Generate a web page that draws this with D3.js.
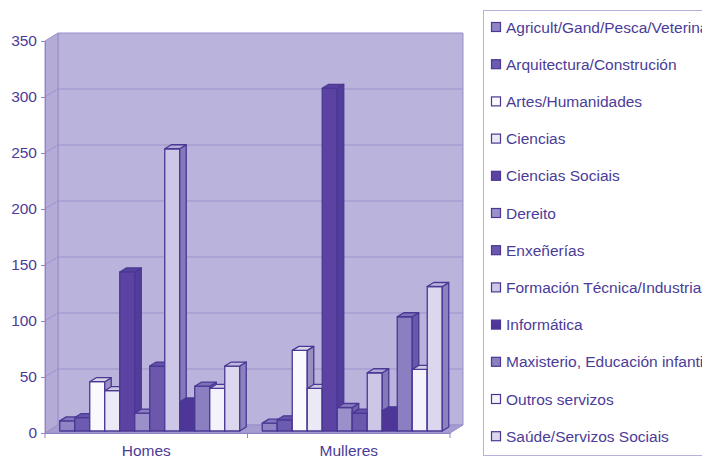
<!DOCTYPE html>
<html>
<head>
<meta charset="utf-8">
<script src="https://cdn.jsdelivr.net/npm/d3@7"></script>
<style>
  body { margin: 0; background: #fff; }
  svg { display: block; font-family: "Liberation Sans", Arial, sans-serif; }
</style>
</head>
<body>
<div id="chart"></div>
<script>
// Data
const groups = ["Homes", "Mulleres"];
const fields = [
  "Agricult/Gand/Pesca/Veterinaria",
  "Arquitectura/Construción",
  "Artes/Humanidades",
  "Ciencias",
  "Ciencias Sociais",
  "Dereito",
  "Enxeñerías",
  "Formación Técnica/Industrias",
  "Informática",
  "Maxisterio, Educación infantil",
  "Outros servizos",
  "Saúde/Servizos Sociais"
];
const homes    = [9, 12, 44, 36, 142, 16, 58, 252, 26, 40, 38, 58];
const mulleres = [7, 10, 72, 38, 306, 21, 16, 52, 18, 102, 55, 129];
const yTicks = [0, 50, 100, 150, 200, 250, 300, 350];

// Fill colours, one per field
const palette = ["#9184c4", "#6c5bb0", "#faf9fd", "#ece9f6", "#5b42a3", "#9c90ca",
                 "#6b58ad", "#cdc6e6", "#4e3699", "#8b7ec1", "#f4f2fa", "#dcd7ef"];

const width = 702, height = 459;
const textColor = "#4b3c98";
const edge = "#4a3894";
const fontSize = "15.5px";

// depth of the walls and of the bars (3D offsets)
const wall = { dx: 13, dy: -8 };
const barFront = { dx: 3.5, dy: -2 };
const barDepth = { dx: 6.5, dy: -4 };

const svg = d3.select("#chart").append("svg")
  .attr("width", width)
  .attr("height", height);

const x = d3.scaleBand().domain(groups).range([45, 450]);
const xi = d3.scaleBand().domain(fields).range([0, x.bandwidth()]).paddingOuter(0.75);
const y = d3.scaleLinear().domain([0, 350]).range([433, 41]);
const color = d3.scaleOrdinal().domain(fields).range(palette);

const x0 = x.range()[0], x1 = x.range()[1];
const yTop = y(350), yBot = y(0);

// WALLS
const poly = pts => "M" + pts.map(p => p.join(",")).join("L") + "Z";

svg.append("path") // back wall
  .attr("d", poly([[x0 + wall.dx, yTop + wall.dy], [x1 + wall.dx, yTop + wall.dy],
                   [x1 + wall.dx, yBot + wall.dy], [x0 + wall.dx, yBot + wall.dy]]))
  .attr("fill", "#bab3db")
  .attr("stroke", "#9a8fcb");

svg.append("path") // left wall
  .attr("d", poly([[x0, yTop], [x0 + wall.dx, yTop + wall.dy],
                   [x0 + wall.dx, yBot + wall.dy], [x0, yBot]]))
  .attr("fill", "#b4acd7")
  .attr("stroke", "#9a8fcb");

svg.append("path") // floor
  .attr("d", poly([[x0, yBot], [x1, yBot], [x1 + wall.dx, yBot + wall.dy], [x0 + wall.dx, yBot + wall.dy]]))
  .attr("fill", "#a59cd1")
  .attr("stroke", "#9a8fcb");

// gridlines on back and left wall
const grid = svg.append("g")
  .attr("stroke", "#9d92cc")
  .attr("fill", "none");

grid.selectAll(".gb")
  .data(yTicks.filter(d => d > 0 && d < 350))
  .join("line")
  .attr("x1", x0 + wall.dx).attr("x2", x1 + wall.dx)
  .attr("y1", d => y(d) + wall.dy).attr("y2", d => y(d) + wall.dy);

grid.selectAll(".gl")
  .data(yTicks.filter(d => d > 0 && d < 350))
  .join("line")
  .attr("x1", x0).attr("x2", x0 + wall.dx)
  .attr("y1", d => y(d)).attr("y2", d => y(d) + wall.dy);

// AXES
const yAxis = d3.axisLeft(y).tickValues(yTicks).tickSize(4).tickPadding(4);
svg.append("g")
  .attr("transform", `translate(${x0},0)`)
  .call(yAxis)
  .call(g => g.selectAll("line, path").attr("stroke", "#8f84c6"))
  .call(g => g.selectAll("text").attr("fill", textColor).style("font-size", fontSize));

const xAxis = d3.axisBottom(x).tickSize(0).tickPadding(12);
svg.append("g")
  .attr("transform", `translate(0,${yBot})`)
  .call(xAxis)
  .call(g => g.select(".domain").attr("stroke", "#8f84c6"))
  .call(g => g.selectAll("text").attr("fill", textColor).style("font-size", fontSize));

// category separators
svg.append("g")
  .selectAll("line")
  .data([x0, x0 + x.bandwidth(), x1])
  .join("line")
  .attr("x1", d => d).attr("x2", d => d)
  .attr("y1", yBot).attr("y2", yBot + 5)
  .attr("stroke", "#8f84c6");

// BARS, painted left to right so nearer sides cover farther ones
const rows = [];
groups.forEach((g, gi) => {
  const vals = gi === 0 ? homes : mulleres;
  fields.forEach((f, fi) => rows.push({ group: g, field: f, value: vals[fi] }));
});

const bw = xi.bandwidth();
const bars = svg.append("g")
  .attr("stroke", edge)
  .attr("stroke-width", 1.3)
  .attr("stroke-linejoin", "round")
  .selectAll("g")
  .data(rows)
  .join("g");

const bx = d => x(d.group) + xi(d.field) + barFront.dx;
const byTop = d => y(d.value) + barFront.dy;
const byBot = yBot + barFront.dy;

bars.append("path") // front face
  .attr("d", d => poly([[bx(d), byTop(d)], [bx(d) + bw, byTop(d)], [bx(d) + bw, byBot], [bx(d), byBot]]))
  .attr("fill", d => color(d.field));

bars.append("path") // side face
  .attr("d", d => poly([[bx(d) + bw, byTop(d)], [bx(d) + bw + barDepth.dx, byTop(d) + barDepth.dy],
                        [bx(d) + bw + barDepth.dx, byBot + barDepth.dy], [bx(d) + bw, byBot]]))
  .attr("fill", d => d3.interpolateRgb(color(d.field), edge)(0.55));

bars.append("path") // top face
  .attr("d", d => poly([[bx(d), byTop(d)], [bx(d) + barDepth.dx, byTop(d) + barDepth.dy],
                        [bx(d) + bw + barDepth.dx, byTop(d) + barDepth.dy], [bx(d) + bw, byTop(d)]]))
  .attr("fill", d => d3.interpolateRgb(color(d.field), edge)(0.2));

// LEGEND (the box runs past the right edge, as in the original)
const legend = svg.append("g");

legend.append("rect")
  .attr("x", 483.5).attr("y", 10.5)
  .attr("width", 240).attr("height", 445)
  .attr("fill", "#fff")
  .attr("stroke", "#b8b0dc");

const item = legend.selectAll(".item")
  .data(fields)
  .join("g")
  .attr("transform", (d, i) => `translate(491,${27 + i * 37.2})`);

item.append("rect")
  .attr("x", 0.5).attr("y", -4.5)
  .attr("width", 9).attr("height", 9)
  .attr("fill", d => color(d))
  .attr("stroke", edge)
  .attr("stroke-width", 1.2);

item.append("text")
  .attr("x", 15)
  .attr("dy", "0.36em")
  .attr("fill", textColor)
  .style("font-size", fontSize)
  .text(d => d);
</script>
</body>
</html>
